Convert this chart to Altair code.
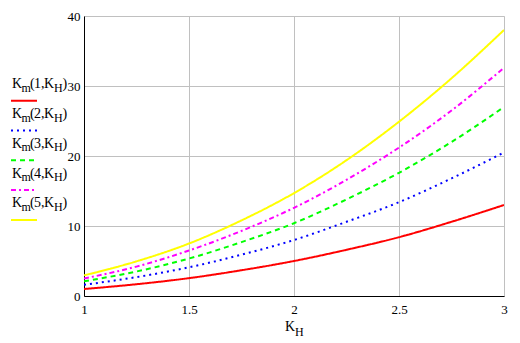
import altair as alt
import pandas as pd

# Data
kh = [1.0, 1.25, 1.5, 1.75, 2.0, 2.25, 2.5, 2.75, 3.0]
km1 = [1.0, 1.68, 2.55, 3.68, 5.0, 6.6, 8.4, 10.6, 13.0]
km2 = [1.6, 2.7, 4.1, 5.9, 8.0, 10.6, 13.4, 16.8, 20.5]
km3 = [2.1, 3.5, 5.35, 7.7, 10.4, 13.8, 17.6, 22.0, 27.0]
km4 = [2.5, 4.2, 6.5, 9.3, 12.6, 16.6, 21.2, 26.5, 32.6]
km5 = [2.95, 4.95, 7.5, 10.8, 14.7, 19.4, 24.9, 31.1, 38.0]

series_idx = ["1", "2", "3", "4", "5"]
x_ticks = [1, 1.5, 2, 2.5, 3]
y_ticks = [0, 10, 20, 30, 40]

colors = ["#ff0000", "#0000ff", "#00ff00", "#ff00ff", "#ffff00"]
dashes = [[1, 0], [2, 4], [5, 4], [5, 3, 2, 3], [1, 0]]
FONT = "'Liberation Serif', 'Times New Roman', Times, serif"

all_vals = [km1, km2, km3, km4, km5]

x_enc = alt.X("kh:Q", scale=alt.Scale(domain=[1, 3], nice=False, zero=False),
              axis=alt.Axis(values=x_ticks, format="~g", title=None, grid=True,
                            gridColor="#c0c0c0", gridWidth=1, ticks=False,
                            domainColor="black", labelFlush=False, labelOverlap=False,
                            labelPadding=7, labelFont=FONT, labelFontSize=13,
                            labelColor="black"))
y_enc = alt.Y("v:Q", scale=alt.Scale(domain=[0, 40], nice=False),
              axis=alt.Axis(values=y_ticks, title=None, grid=True,
                            gridColor="#c0c0c0", gridWidth=1, ticks=False,
                            domainColor="black", labelFlush=False, labelOverlap=False,
                            labelPadding=4, labelFont=FONT, labelFontSize=13,
                            labelColor="black"))

layers = []
for vals, col, dash in zip(all_vals, colors, dashes):
    df = pd.DataFrame({"kh": kh, "v": vals})
    layers.append(
        alt.Chart(df).mark_line(color=col, strokeWidth=2, strokeDash=dash,
                                interpolate="monotone", clip=True)
        .encode(x=x_enc, y=y_enc)
    )

# Legend (Mathcad style with subscripts), positions relative to plot origin
dummy = pd.DataFrame({"a": [0]})
OX, OY = 84, 16
for i, (idx, col, dash) in enumerate(zip(series_idx, colors, dashes)):
    line_y = 100.7 + 29.8 * i - OY
    base = line_y - 12.5
    layers.append(
        alt.Chart(dummy).mark_rule(color=col, strokeWidth=2, strokeDash=dash)
        .encode(x=alt.value(11 - OX), x2=alt.value(37 - OX), y=alt.value(line_y))
    )
    pieces = [("K", 12, 0, 14), ("m", 21.5, 3.5, 12), ("(", 30, 0, 14),
              (idx, 34, 0, 14), (",", 41, 0, 14), ("K", 44, 0, 14),
              ("H", 54, 3.5, 12), (")", 62.5, 0, 14)]
    for txt, px, dy, sz in pieces:
        layers.append(
            alt.Chart(dummy).mark_text(text=txt, font=FONT, fontSize=sz, align="left",
                                       baseline="alphabetic", color="black")
            .encode(x=alt.value(px - OX), y=alt.value(base + dy))
        )

# x axis title K_H
layers.append(
    alt.Chart(dummy).mark_text(text="K", font=FONT, fontSize=14, align="left",
                               baseline="alphabetic", color="black")
    .encode(x=alt.value(285 - OX), y=alt.value(331 - OY))
)
layers.append(
    alt.Chart(dummy).mark_text(text="H", font=FONT, fontSize=12, align="left",
                               baseline="alphabetic", color="black")
    .encode(x=alt.value(295 - OX), y=alt.value(335.5 - OY))
)

chart = alt.layer(*layers).properties(
    width=420, height=280,
    autosize=alt.AutoSizeParams(type="none"),
    padding={"left": 76, "top": 8, "right": 8, "bottom": 46},
).configure_view(stroke="black", strokeWidth=1).configure(background="white")

chart.save("out.html", embed_options={"renderer": "svg", "actions": False})
